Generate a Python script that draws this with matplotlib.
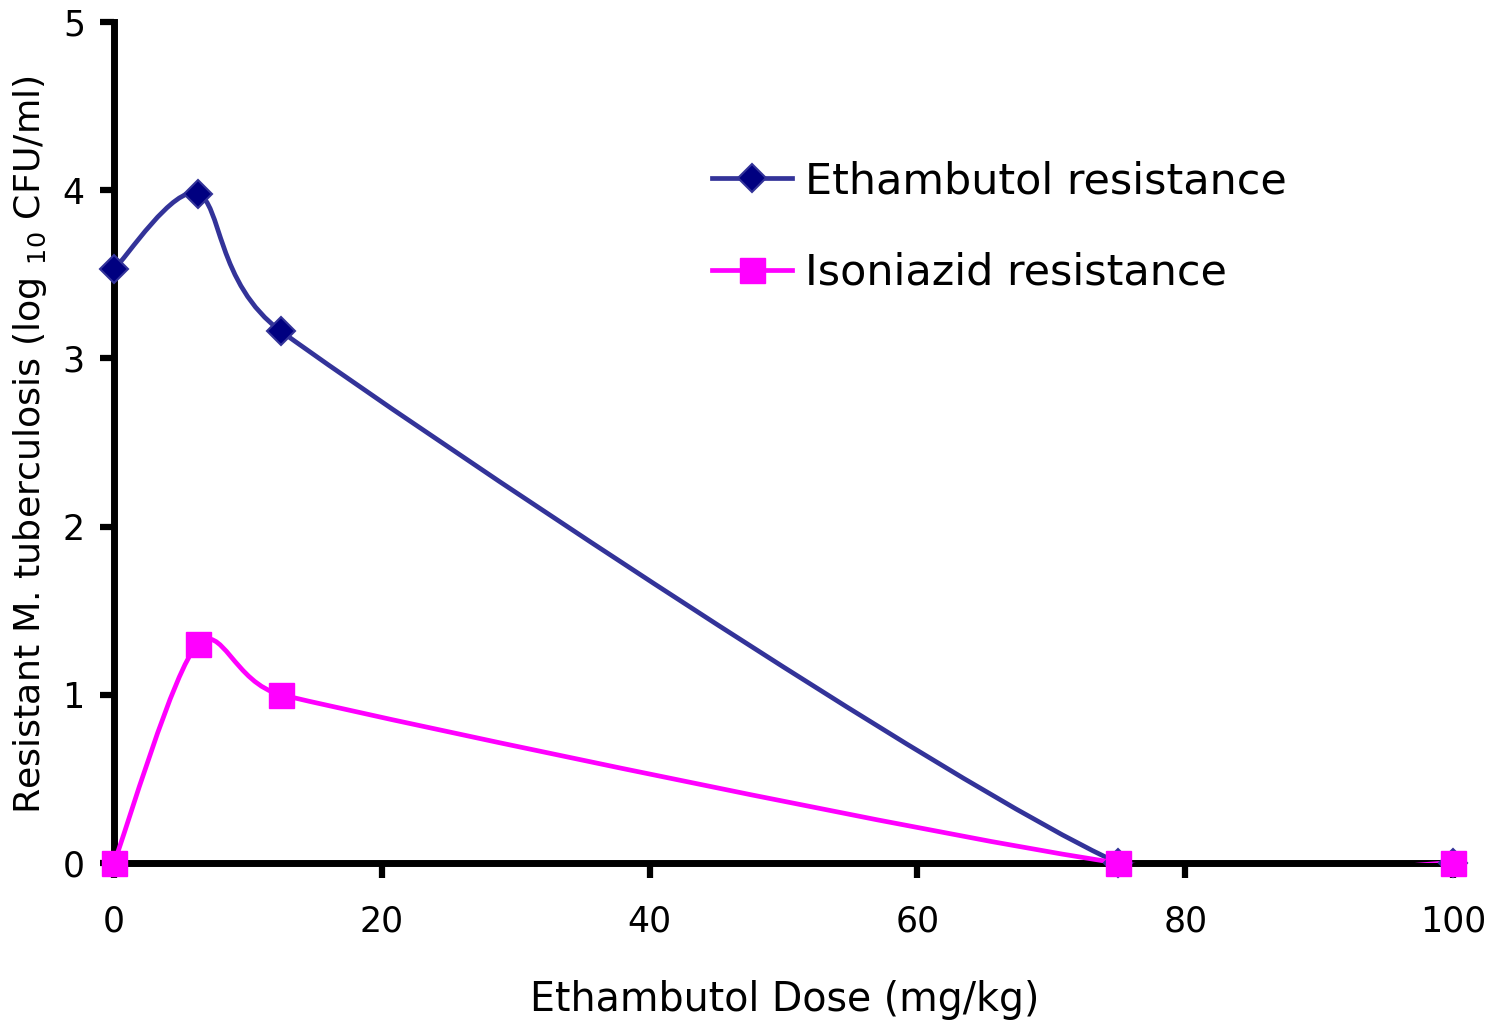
import numpy as np
import matplotlib
matplotlib.use("Agg")
import matplotlib.pyplot as plt
from matplotlib.path import Path
from matplotlib.patches import PathPatch
from matplotlib.lines import Line2D

plt.rcParams['font.family'] = ['DejaVu Sans']

# ---- data ----
dose = [0, 6.25, 12.5, 75, 100]
ethambutol_res = [3.53, 3.98, 3.16, 0.0, 0.0]
isoniazid_res = [0.0, 1.30, 1.00, 0.0, 0.0]
series_names = ["Ethambutol resistance", "Isoniazid resistance"]
x_ticks = [0, 20, 40, 60, 80, 100]
y_ticks = [0, 1, 2, 3, 4, 5]

BLUE_LINE = "#333399"
BLUE_FACE = "#000080"
MAGENTA = "#FF00FF"

fig = plt.figure(figsize=(14.9, 10.25), dpi=100)
ax = fig.add_axes([114/1490, 1-863/1025, (1453-114)/1490, (863-22)/1025])
ax.set_xlim(0, 100)
ax.set_ylim(0, 5)
renderer = fig.canvas.get_renderer()


def fit_text(t, target_px, horizontal=True):
    bb = t.get_window_extent(renderer)
    cur = bb.width if horizontal else bb.height
    t.set_fontsize(t.get_fontsize() * target_px / cur)


def excel_smooth_path(ax, xs, ys, tension=1/7):
    """Bezier smoothing similar to spreadsheet 'smoothed line' rendering."""
    pts = ax.transData.transform(np.column_stack([xs, ys]))
    n = len(pts)
    verts = [pts[0]]
    codes = [Path.MOVETO]
    for i in range(n - 1):
        p0 = pts[i - 1] if i > 0 else pts[i]
        p1 = pts[i]
        p2 = pts[i + 1]
        p3 = pts[i + 2] if i + 2 < n else pts[i + 1]
        d12 = np.linalg.norm(p2 - p1)
        d02 = np.linalg.norm(p2 - p0)
        d13 = np.linalg.norm(p3 - p1)
        f0 = tension
        f1 = tension
        if d02 > 0 and d02 * tension >= d12/2:
            f0 = d12/d02/2
        if d13 > 0 and d13 * tension >= d12/2:
            f1 = d12/d13/2
        b1 = p1 + (p2 - p0) * f0
        b2 = p2 - (p3 - p1) * f1
        verts += [b1, b2, p2]
        codes += [Path.CURVE4] * 3
    verts = ax.transData.inverted().transform(np.array(verts))
    return Path(verts, codes)


for ys, col in [(ethambutol_res, BLUE_LINE), (isoniazid_res, MAGENTA)]:
    patch = PathPatch(excel_smooth_path(ax, dose, ys), fill=False,
                      edgecolor=col, lw=3.4, capstyle='round', joinstyle='round', zorder=3)
    ax.add_patch(patch)

ax.plot(dose, ethambutol_res, ls='none', marker='D', ms=14, mfc=BLUE_FACE,
        mec=BLUE_LINE, mew=1.5, clip_on=False, zorder=5)
ax.plot(dose, isoniazid_res, ls='none', marker='s', ms=18, mfc=MAGENTA,
        mec=MAGENTA, mew=1, clip_on=False, zorder=6)

# spines
for s in ['top', 'right']:
    ax.spines[s].set_visible(False)
for s in ['left', 'bottom']:
    ax.spines[s].set_linewidth(5)
    ax.spines[s].set_color('black')
    ax.spines[s].set_zorder(2)

ax.set_xticks(x_ticks)
ax.set_yticks(y_ticks)
ax.set_xticklabels([str(v) for v in x_ticks])
ax.set_yticklabels([str(v) for v in y_ticks])
ax.tick_params(axis='x', direction='out', length=11, width=4.5, pad=19, labelsize=25)
ax.tick_params(axis='y', direction='out', length=10, width=4.5, pad=11, labelsize=25)

yl = fig.text(30/1490, 1-445/1025, r"Resistant M. tuberculosis (log $_{\mathregular{10}}$ CFU/ml)",
              rotation=90, ha='center', va='center', fontsize=24)
fit_text(yl, 740, horizontal=False)
xl = fig.text(785/1490, 1-1000/1025, "Ethambutol Dose (mg/kg)", ha='center', va='center', fontsize=24)
fit_text(xl, 510)

# legend font size fitted to the label width
probe = fig.text(0, 0, series_names[0], fontsize=30)
probe_w = probe.get_window_extent(renderer).width
leg_fs = 30 * 482 / probe_w
probe.remove()

handles = [
    Line2D([], [], color=BLUE_LINE, lw=3.4, marker='D', ms=14, mfc=BLUE_FACE, mec=BLUE_LINE, mew=1.5),
    Line2D([], [], color=MAGENTA, lw=3.4, marker='s', ms=18, mfc=MAGENTA, mec=MAGENTA),
]
hl_pts = 80 / (100/72)
fig.legend(handles, series_names, loc='center left', bbox_to_anchor=(712/1490, 1-227/1025),
           frameon=False, fontsize=leg_fs, handlelength=hl_pts/leg_fs,
           handletextpad=(13/(100/72))/leg_fs,
           labelspacing=1.15, borderpad=0, borderaxespad=0)

fig.savefig("out.png", dpi=100)
